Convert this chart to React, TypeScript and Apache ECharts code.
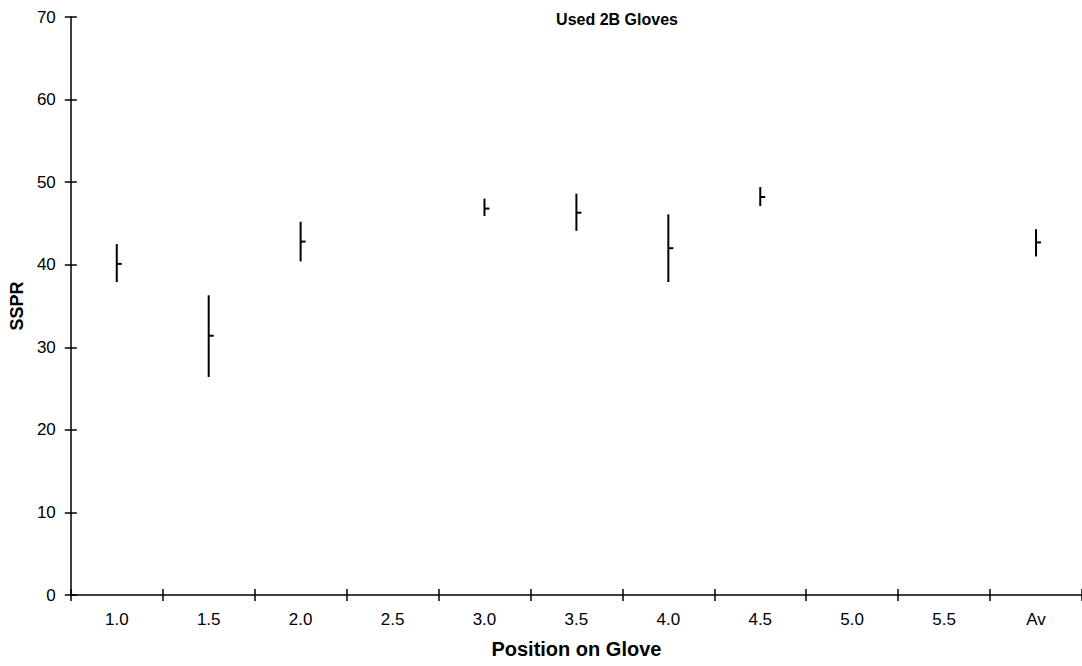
import React, { useEffect, useRef } from "react";
import * as echarts from "echarts";

const categories = ["1.0", "1.5", "2.0", "2.5", "3.0", "3.5", "4.0", "4.5", "5.0", "5.5", "Av"];
const highs: (number | null)[] = [42.5, 36.3, 45.2, null, 48.0, 48.6, 46.1, 49.4, null, null, 44.3];
const lows: (number | null)[] = [37.9, 26.4, 40.4, null, 45.9, 44.1, 37.9, 47.1, null, null, 41.0];
const closes: (number | null)[] = [40.1, 31.4, 42.8, null, 46.8, 46.3, 42.0, 48.2, null, null, 42.7];
const yTicks = { min: 0, max: 70, interval: 10 };

const FONT = "'Liberation Sans', Arial, sans-serif";

export default function App() {
  const ref = useRef<HTMLDivElement>(null);
  useEffect(() => {
    document.body.style.margin = "0";
    const chart = echarts.init(ref.current!, undefined, { renderer: "svg" });
    const data: number[][] = [];
    categories.forEach((_, i) => {
      if (highs[i] != null && lows[i] != null && closes[i] != null) {
        data.push([i, lows[i] as number, highs[i] as number, closes[i] as number]);
      }
    });
    const axisLineStyle = { color: "#000", width: 1.5 };
    chart.setOption({
      animation: false,
      textStyle: { fontFamily: FONT },
      graphic: [
        {
          type: "text",
          x: 617,
          y: 19,
          style: {
            text: "Used 2B Gloves",
            font: `bold 16px ${FONT}`,
            fill: "#000",
            textAlign: "center",
            textVerticalAlign: "middle",
          },
        },
      ],
      grid: { left: 70, right: 0, top: 17, bottom: 71, containLabel: false },
      xAxis: [
        {
          type: "category",
          data: categories,
          boundaryGap: true,
          axisLine: { lineStyle: axisLineStyle },
          axisTick: { show: true, length: 6, lineStyle: { color: "#000", width: 1.5 } },
          axisLabel: { color: "#000", fontSize: 17, fontFamily: FONT, margin: 16 },
          splitLine: { show: false },
          name: "Position on Glove",
          nameLocation: "middle",
          nameGap: 44,
          nameTextStyle: { fontWeight: "bold", fontSize: 20, color: "#000", fontFamily: FONT },
        },
        {
          type: "category",
          data: categories,
          boundaryGap: true,
          position: "bottom",
          axisLine: { show: false },
          axisTick: { show: true, inside: true, length: 6, lineStyle: { color: "#000", width: 1.5 } },
          axisLabel: { show: false },
          splitLine: { show: false },
        },
      ],
      yAxis: [
        {
          type: "value",
          min: yTicks.min,
          max: yTicks.max,
          interval: yTicks.interval,
          axisLine: { show: true, lineStyle: axisLineStyle },
          axisTick: { show: true, length: 6, lineStyle: { color: "#000", width: 1.5 } },
          axisLabel: { color: "#000", fontSize: 17, fontFamily: FONT, margin: 15 },
          splitLine: { show: false },
          name: "SSPR",
          nameLocation: "middle",
          nameGap: 44,
          nameRotate: 90,
          nameTextStyle: { fontWeight: "bold", fontSize: 18, color: "#000", fontFamily: FONT },
        },
        {
          type: "value",
          min: yTicks.min,
          max: yTicks.max,
          interval: yTicks.interval,
          position: "left",
          axisLine: { show: false },
          axisTick: { show: true, inside: true, length: 6, lineStyle: { color: "#000", width: 1.5 } },
          axisLabel: { show: false },
          splitLine: { show: false },
        },
      ],
      series: [
        {
          type: "custom",
          xAxisIndex: 0,
          yAxisIndex: 0,
          data,
          renderItem: (params: any, api: any) => {
            const x = api.value(0);
            const lo = api.coord([x, api.value(1)]);
            const hi = api.coord([x, api.value(2)]);
            const cl = api.coord([x, api.value(3)]);
            return {
              type: "group",
              children: [
                {
                  type: "line",
                  shape: { x1: hi[0], y1: hi[1], x2: lo[0], y2: lo[1] },
                  style: { stroke: "#000", lineWidth: 2 },
                },
                {
                  type: "line",
                  shape: { x1: cl[0], y1: cl[1], x2: cl[0] + 5, y2: cl[1] },
                  style: { stroke: "#000", lineWidth: 2 },
                },
              ],
            };
          },
        },
      ],
    });
    return () => chart.dispose();
  }, []);
  return <div ref={ref} style={{ width: 1082, height: 666 }} />;
}
